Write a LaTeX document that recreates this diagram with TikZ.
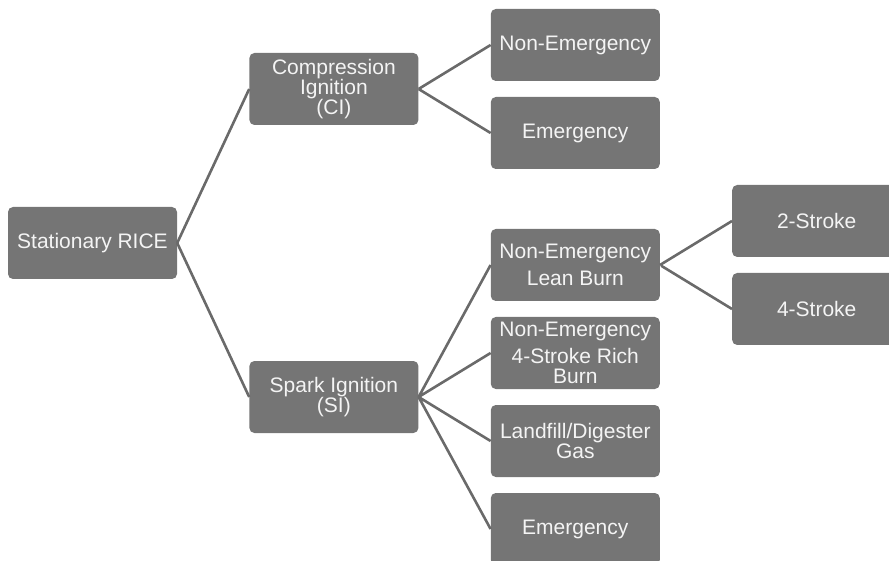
\documentclass[tikz,border=0pt]{standalone}
\usepackage{fontspec}
\setmainfont{Liberation Sans}
\usepackage{tikz}
\usetikzlibrary{positioning}
\definecolor{boxgray}{HTML}{757575}
\definecolor{linkgray}{HTML}{6A6A6A}
\definecolor{boxtext}{HTML}{F4F4F4}
\tikzset{
    font=\fontsize{21}{20}\selectfont,
    node distance=72pt,
    tree box/.style={rectangle,rounded corners=5pt,fill=boxgray,text=boxtext,align=center,
        minimum width=169pt,minimum height=72pt,inner sep=1pt},
    tree link/.style={draw=linkgray,line width=2.6pt,shorten <=1.5pt}
}
\begin{document}
\begin{tikzpicture}[x=1pt,y=1pt]
    \useasboundingbox (0,0) rectangle (889,-561);
    \node[tree box] (rice) at (92.5,-243) {Stationary RICE};
    \node[tree box] (ci) [right = of rice, yshift=154pt] {Compression\\Ignition\\(CI)};
    \node[tree box] (si) [right = of rice, yshift=-154pt] {Spark Ignition\\(SI)};
    \node[tree box] (cine) [right = of ci, yshift=44pt] {Non-Emergency};
    \node[tree box] (cie) [right = of ci, yshift=-44pt] {Emergency};
    \node[tree box] (lean) [right = of si, yshift=132pt] {Non-Emergency\\[7pt]Lean Burn};
    \node[tree box] (rich) [right = of si, yshift=44pt] {Non-Emergency\\[7pt]4-Stroke Rich\\Burn};
    \node[tree box] (gas) [right = of si, yshift=-44pt] {Landfill/Digester\\Gas};
    \node[tree box] (sie) [right = of si, yshift=-132pt] {Emergency};
    \node[tree box] (two) [right = of lean, yshift=44pt] {2-Stroke};
    \node[tree box] (four) [right = of lean, yshift=-44pt] {4-Stroke};
    \path[tree link]
        (rice.east) -- (ci.west)
        (rice.east) -- (si.west)
        (ci.east) -- (cine.west)
        (ci.east) -- (cie.west)
        (si.east) -- (lean.west)
        (si.east) -- (rich.west)
        (si.east) -- (gas.west)
        (si.east) -- (sie.west)
        (lean.east) -- (two.west)
        (lean.east) -- (four.west)
        ;
\end{tikzpicture}
\end{document}
